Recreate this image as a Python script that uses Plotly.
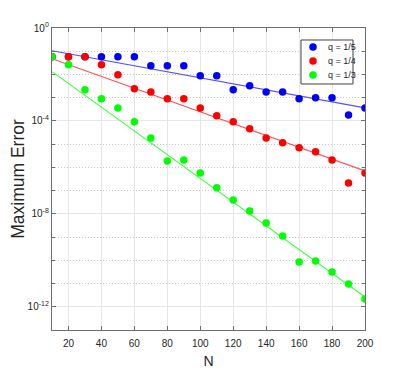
import numpy as np
import plotly.graph_objects as go

N = list(range(10, 201, 10))

# log10 of maximum error
log_err_q5 = [-1.24, -1.24, -1.24, -1.24, -1.24, -1.24, -1.62, -1.62, -1.62, -2.06,
              -2.06, -2.66, -2.49, -2.75, -2.75, -3.05, -3.00, -3.00, -3.74, -3.44]
log_err_q4 = [-1.24, -1.24, -1.24, -1.58, -2.01, -2.62, -2.75, -3.05, -3.05, -3.44,
              -3.78, -4.04, -4.34, -4.73, -4.94, -5.16, -5.33, -5.68, -6.67, -6.24]
log_err_q3 = [-1.24, -1.58, -2.66, -3.05, -3.44, -4.04, -4.73, -5.72, -5.68, -6.24,
              -6.88, -7.40, -7.88, -8.39, -8.95, -10.07, -10.03, -10.50, -11.02, -11.67]

# fitted lines: log10(err) = intercept + slope * N
fit_q5 = (-0.85, -0.01295)
fit_q4 = (-1.066, -0.02542)
fit_q3 = (-1.37, -0.05105)

labels = ["q = 1/5", "q = 1/4", "q = 1/3"]
colors = ["#0000ff", "#ff0000", "#00ff00"]
line_colors = ["#5050ff", "#ff5050", "#40ff40"]

fig = go.Figure()
series = [log_err_q5, log_err_q4, log_err_q3]
fits = [fit_q5, fit_q4, fit_q3]
Nline = np.array([10, 200])
for lab, s, f, c, lc in zip(labels, series, fits, colors, line_colors):
    fig.add_trace(go.Scatter(x=Nline, y=10 ** (f[0] + f[1] * Nline), mode="lines",
                             line=dict(color=lc, width=1.1), showlegend=False,
                             hoverinfo="skip"))
for lab, s, c in zip(labels, series, colors):
    fig.add_trace(go.Scatter(x=N, y=[10 ** v for v in s], mode="markers", name=lab,
                             showlegend=False,
                             marker=dict(color=c, size=7.5, line=dict(width=0))))

# compact legend (MATLAB style) drawn in plot-area fraction coordinates
leg_x0, leg_x1, leg_y0, leg_y1 = 0.7955, 0.9617, 0.8146, 0.9603
leg_marker_x, leg_text_x = 0.8339, 0.8754
leg_rows = [0.9371, 0.8907, 0.8444]
fig.add_trace(go.Scatter(x=[leg_x0, leg_x1, leg_x1, leg_x0, leg_x0],
                         y=[leg_y0, leg_y0, leg_y1, leg_y1, leg_y0],
                         mode="lines", fill="toself", fillcolor="white",
                         line=dict(color="#404040", width=1),
                         xaxis="x2", yaxis="y2", showlegend=False, hoverinfo="skip"))
fig.add_trace(go.Scatter(x=[leg_marker_x] * 3, y=leg_rows, mode="markers",
                         xaxis="x2", yaxis="y2", showlegend=False, hoverinfo="skip",
                         marker=dict(color=colors, size=7.5, line=dict(width=0))))
for lab, yy in zip(labels, leg_rows):
    fig.add_annotation(text=lab, xref="x domain", yref="y domain", x=leg_text_x, y=yy,
                       xanchor="left", yanchor="middle", showarrow=False,
                       font=dict(size=9, color="#262626"))

ytickvals = [1, 1e-4, 1e-8, 1e-12]
yticktext = ["10<sup>0</sup>", "10<sup>-4</sup>", "10<sup>-8</sup>", "10<sup>-12</sup>"]
axcol = "#6e6e6e"
# page body adds an 8px offset, so margins are shifted to compensate
fig.update_layout(
    width=403, height=371,
    margin=dict(l=44, r=46, t=20, b=49, autoexpand=False),
    paper_bgcolor="white", plot_bgcolor="white",
    font=dict(family="Liberation Sans, Arial, sans-serif", size=10, color="#262626"),
    showlegend=False,
    xaxis=dict(range=[10, 200], tickvals=list(range(20, 201, 20)), automargin=False,
               showgrid=True, gridcolor="#e6e6e6", gridwidth=1,
               showline=True, linecolor=axcol, linewidth=1.3, mirror="ticks",
               ticks="inside", ticklen=4, tickcolor=axcol, zeroline=False,
               ticklabelstandoff=4,
               title=dict(text="N", font=dict(size=14), standoff=8)),
    yaxis=dict(type="log", range=[-13, 0], tickvals=ytickvals, ticktext=yticktext,
               automargin=False,
               showgrid=True, gridcolor="#e6e6e6", gridwidth=1,
               showline=True, linecolor=axcol, linewidth=1.3, mirror="ticks",
               ticks="inside", ticklen=4, tickcolor=axcol, zeroline=False,
               minor=dict(tickvals=[10.0 ** (-k) for k in range(0, 14)],
                          showgrid=True, griddash="1px,2px", gridcolor="#c8c8c8",
                          ticks="inside", ticklen=3, tickcolor=axcol),
               title=dict(text="Maximum Error", font=dict(size=17.5), standoff=4)),
    xaxis2=dict(overlaying="x", range=[0, 1], visible=False, fixedrange=True),
    yaxis2=dict(overlaying="y", range=[0, 1], visible=False, fixedrange=True),
)

fig.write_html("out.html")
